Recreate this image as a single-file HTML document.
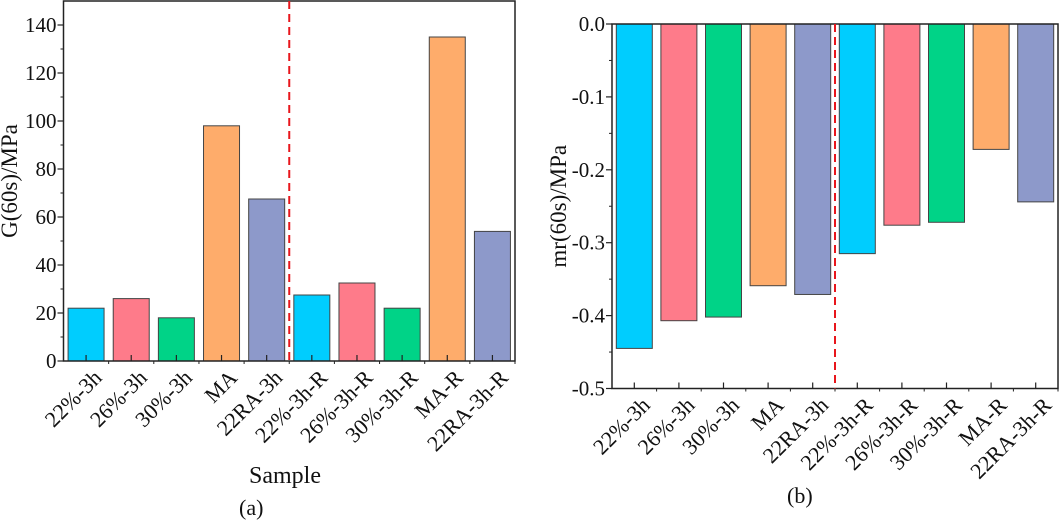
<!DOCTYPE html>
<html><head><meta charset="utf-8"><style>
body{margin:0;background:#fff;}
svg{display:block;}
text{font-family:"Liberation Serif",serif;}
</style></head><body>
<svg id="c" width="1059" height="522" font-family="Liberation Serif, serif"></svg>
<script>
const categories=["22%-3h","26%-3h","30%-3h","MA","22RA-3h","22%-3h-R","26%-3h-R","30%-3h-R","MA-R","22RA-3h-R"];
const gValues=[22,26,18,98,67.5,27.5,32.5,22,135,54];
const mrValues=[-0.445,-0.407,-0.402,-0.359,-0.371,-0.315,-0.276,-0.272,-0.172,-0.244];
const gTicks=[0,20,40,60,80,100,120,140];
const mrTicks=[0,-0.1,-0.2,-0.3,-0.4,-0.5];
const colors=["#00cdfe","#fe7b8a","#00d387","#feac6b","#8d99ca","#00cdfe","#fe7b8a","#00d387","#feac6b","#8d99ca"];
const NS="http://www.w3.org/2000/svg";
const svg=document.getElementById('c');
const FF="Liberation Serif, serif";
function el(t,a,p){const e=document.createElementNS(NS,t);for(const k in a)e.setAttribute(k,a[k]);(p||svg).appendChild(e);return e;}
function panel(o){
  const g=el('g',{});
  
  
  const n=categories.length,cw=(o.x1-o.x0)/n;
  const y=v=>o.yb+(v-o.vmin)/(o.vmax-o.vmin)*(o.yt-o.yb);
  const xc=i=>o.x0+cw*(i+0.5);
  o.vals.forEach((v,i)=>{
    const a=y(0),b=y(v);
    const r=el('rect',{x:xc(i)-18,y:Math.min(a,b),width:36,height:Math.abs(a-b),fill:colors[i],stroke:'#444','stroke-width':1},g);
    
    
  });
  const fr=el('rect',{x:o.x0,y:o.yt,width:o.x1-o.x0,height:o.yb-o.yt,fill:'none',stroke:'#222','stroke-width':1.5},g);
  
  
  const dl=el('line',{x1:o.x0+cw*5,x2:o.x0+cw*5,y1:o.yt,y2:o.yb,stroke:'#e8161c','stroke-width':2,'stroke-dasharray':'8,5'},g);
  
  
  o.ticks.forEach(t=>{
    const yy=y(t);
    el('line',{x1:o.x0-6,x2:o.x0,y1:yy,y2:yy,stroke:'#222','stroke-width':1.2},g);
    const tx=el('text',{x:o.x0-7,y:yy+7,'text-anchor':'end','font-size':21,fill:'#111','font-family':FF},g);
    tx.textContent=o.fmt(t);
    
    
  });
  for(let i=0;i<o.ticks.length-1;i++){const yy=(y(o.ticks[i])+y(o.ticks[i+1]))/2;el('line',{x1:o.x0-3,x2:o.x0,y1:yy,y2:yy,stroke:'#222'},g);}
  categories.forEach((c,i)=>{
    el('line',{x1:xc(i),x2:xc(i),y1:o.yb,y2:o.yb-6,stroke:'#222','stroke-width':1.2},g);
    el('line',{x1:o.x0+cw*(i+1),x2:o.x0+cw*(i+1),y1:o.yb,y2:o.yb+3,stroke:'#222'},g);
    const ax=xc(i)+17,ay=o.yb+18;
    const tx=el('text',{x:ax,y:ay,'text-anchor':'end','font-size':22,fill:'#111','font-family':FF,transform:`rotate(-45 ${ax} ${ay})`},g);
    tx.textContent=c;
    
    
  });
  const yl=el('text',{x:o.ylx,y:(o.yt+o.yb)/2,'text-anchor':'middle','font-size':23,fill:'#111','font-family':FF,transform:`rotate(-90 ${o.ylx} ${(o.yt+o.yb)/2})`},g);
  yl.textContent=o.ylabel;
  
  
}
panel({name:'panel-a',x0:63.5,x1:515,yt:1,yb:361,vmin:0,vmax:150,vals:gValues,ticks:gTicks,fmt:t=>String(t),ylabel:'G(60s)/MPa',ylx:17});
panel({name:'panel-b',x0:612,x1:1058,yt:24,yb:388.5,vmin:-0.5,vmax:0,vals:mrValues,ticks:mrTicks,fmt:t=>t.toFixed(1),ylabel:'mr(60s)/MPa',ylx:566});
</script>
<div style="position:absolute;left:0;top:0;width:1059px;height:522px;pointer-events:none;font-family:'Liberation Serif',serif;color:#111">
<div style="position:absolute;left:249px;top:463px;font-size:24px">Sample</div>
<div style="position:absolute;left:239px;top:495px;font-size:22px">(a)</div>
<div style="position:absolute;left:787px;top:483px;font-size:22px">(b)</div>
</div>
</body></html>
